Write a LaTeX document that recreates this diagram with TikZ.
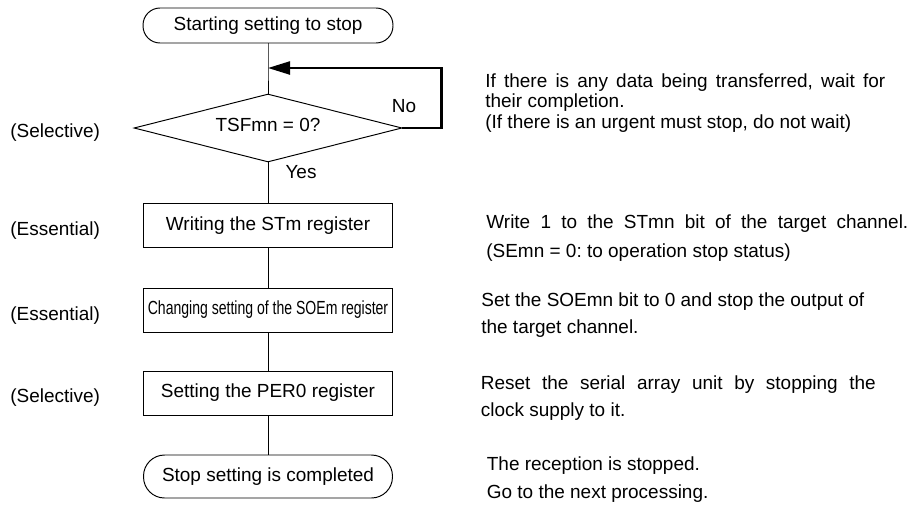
\documentclass[tikz,border=0pt]{standalone}
\usepackage{fontspec}
\setmainfont{Liberation Sans}
\usepackage{graphicx}
\usetikzlibrary{arrows.meta,positioning,shapes.geometric}
\newcommand{\notefont}[1]{\fontsize{10.8pt}{#1}\selectfont}
\frenchspacing

\begin{document}
\begin{tikzpicture}[
  x=0.02cm,y=-0.02cm,
  every node/.style={font=\notefont{13pt}},
  termnode/.style={draw,line width=0.55pt,rounded corners=0.34cm,minimum width=5cm,minimum height=0.7cm,inner sep=0pt},
  procnode/.style={draw,line width=0.55pt,minimum width=4.98cm,minimum height=0.88cm,inner sep=0pt},
  decnode/.style={draw,line width=0.55pt,diamond,aspect=4,minimum width=5.36cm,minimum height=1.36cm,inner sep=0pt,text depth=0.12cm},
  sidelabel/.style={anchor=base west,inner sep=0pt},
  note/.style={anchor=west,align=left,inner sep=0pt},
  flow/.style={line width=0.55pt},
  loopback/.style={line width=1.3pt,-{Triangle[length=0.44cm,width=0.26cm]}}
]
\useasboundingbox (0,0) rectangle (911,507);
% flow chart
\node[termnode] (start) at (268,25.5) {Starting setting to stop};
\coordinate (join) at (268,68);
\node[decnode] (tsf) at (268,128) {TSFmn = 0?};
\node[procnode] (stm) at (268,225.5) {Writing the STm register};
\node[procnode] (soe) at (268,310) {\scalebox{0.74}[1]{Changing setting of the SOEm register}};
\node[procnode] (per) at (268,393) {Setting the PER0 register};
\node[termnode,minimum width=4.98cm,minimum height=0.86cm,rounded corners=0.42cm] (done) at (268,476.5) {Stop setting is completed};
\node[inner sep=0pt] (no) at (404,106.5) {No};
\node[inner sep=0pt] (yes) at (301,172) {Yes};
\draw[flow] (start.south) -- (join) -- (tsf.north);
\draw[flow] (tsf.south) -- (stm.north);
\draw[flow] (stm.south) -- (soe.north);
\draw[flow] (soe.south) -- (per.north);
\draw[flow] (per.south) -- (done.north);
\draw[loopback] (tsf.east) -- ++(39,0) |- (join);
% left side
\node[sidelabel] (sel1) at (10,137.3) {(Selective)};
\node[sidelabel] (ess1) at (10,235.6) {(Essential)};
\node[sidelabel] (ess2) at (10,320.6) {(Essential)};
\node[sidelabel] (sel2) at (10,402.3) {(Selective)};
% right side
\node[note,font=\notefont{11.6pt}] (wait) at (485,103) {\makebox[8cm][s]{If there is any data being transferred, wait for}\\their completion.\\(If there is an urgent must stop, do not wait)};
\node[note,font=\notefont{16.4pt}] (write) at (486,237.9) {\makebox[8.44cm][s]{Write 1 to the STmn bit of the target channel.}\\(SEmn = 0: to operation stop status)};
\node[note,font=\notefont{15.5pt}] (out) at (481,314.8) {Set the SOEmn bit to 0 and stop the output of\\the target channel.};
\node[note,font=\notefont{15.5pt}] (reset) at (480.5,398.1) {\makebox[7.9cm][s]{Reset the serial array unit by stopping the}\\clock supply to it.};
\node[note,font=\notefont{16pt}] (next) at (486.5,479.3) {The reception is stopped.\\Go to the next processing.};
\end{tikzpicture}
\end{document}
